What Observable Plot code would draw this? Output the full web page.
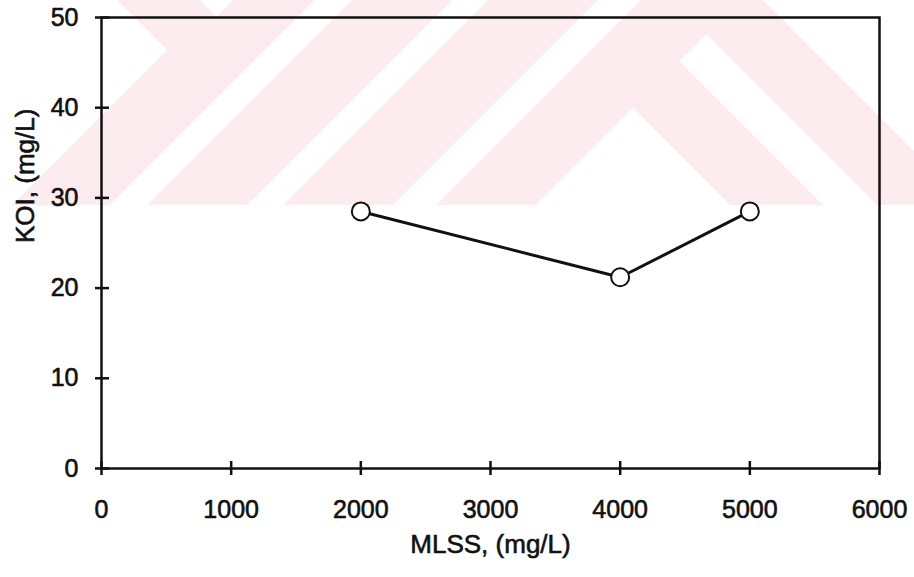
<!DOCTYPE html>
<html>
<head>
<meta charset="utf-8">
<script src="https://cdn.jsdelivr.net/npm/d3@7"></script>
<script src="https://cdn.jsdelivr.net/npm/@observablehq/plot@0.6"></script>
<style>
  html, body { margin: 0; padding: 0; background: #fff; }
  #wrap { position: relative; width: 914px; height: 577px; }
  #wm { position: absolute; left: 0; top: 0; z-index: 0; }
  #chart { position: absolute; left: 0; top: 0; z-index: 1; }
  #chart text { stroke: #111; stroke-width: 0.6px; }
</style>
</head>
<body>
<div id="wrap">
  <!-- faint scan watermark behind the chart (background decoration, not data) -->
  <svg id="wm" width="914" height="577" viewBox="0 0 914 577">
    <rect x="0" y="0" width="914" height="205" fill="#fdecef"/>
    <g fill="#ffffff">
      <polygon points="0,0 117,0 167,50 12,205 0,205"/>
      <polygon points="200,0 233,0 216.5,16.5"/>
      <polygon points="315,0 352,0 147,205 110,205"/>
      <polygon points="452,0 488,0 283,205 247,205"/>
      <polygon points="598,0 641,0 436,205 393,205"/>
      <polygon points="633,108 536,205 730,205"/>
      <polygon points="679.5,61.5 706.5,34.5 877,205 823,205"/>
      <polygon points="763,0 914,0 914,151"/>
    </g>
  </svg>
  <div id="chart"></div>
</div>
<script>
// data
const mlss = [2000, 4000, 5000];
const koi = [28.5, 21.2, 28.5];
const xTicks = [0, 1000, 2000, 3000, 4000, 5000, 6000];
const yTicks = [0, 10, 20, 30, 40, 50];
const xLabel = "MLSS, (mg/L)";
const yLabel = "KOI, (mg/L)";

const points = mlss.map((x, i) => ({x, y: koi[i]}));

const W = 914, H = 577;
const mL = 101, mR = 35, mT = 17, mB = 109;
const plotW = W - mL - mR, plotH = H - mT - mB;
const ink = "#111";

const chart = Plot.plot({
  width: W,
  height: H,
  marginLeft: mL,
  marginRight: mR,
  marginTop: mT,
  marginBottom: mB,
  style: {background: "transparent", fontFamily: "'Liberation Sans', Arial, sans-serif", color: ink},
  x: {domain: [0, 6000], label: null},
  y: {domain: [0, 50], label: null},
  marks: [
    Plot.frame({stroke: ink, strokeWidth: 2.5}),
    // outward tick parts + labels
    Plot.axisY(yTicks, {tickSize: 6, tickPadding: 17, strokeWidth: 2.5, fontSize: 25, label: null, tickFormat: d => String(d)}),
    Plot.axisX(xTicks, {tickSize: 7, tickPadding: 25, strokeWidth: 2.5, fontSize: 25, label: null, tickFormat: d => String(d)}),
    // inward tick parts
    Plot.tickY(yTicks, {y: d => d, insetRight: plotW - 8, stroke: ink, strokeWidth: 2.5}),
    Plot.tickX(xTicks, {x: d => d, insetTop: plotH - 7, stroke: ink, strokeWidth: 2.5}),
    // axis titles
    Plot.text([yLabel], {text: d => d, frameAnchor: "left", dx: -76, rotate: -90, fontSize: 26, fill: ink}),
    Plot.text([xLabel], {text: d => d, frameAnchor: "bottom", dy: 84, fontSize: 26, fill: ink}),
    // data
    Plot.line(points, {x: "x", y: "y", stroke: ink, strokeWidth: 3}),
    Plot.dot(points, {x: "x", y: "y", r: 9, fill: "white", stroke: ink, strokeWidth: 2})
  ]
});
document.getElementById("chart").appendChild(chart);
</script>
</body>
</html>
